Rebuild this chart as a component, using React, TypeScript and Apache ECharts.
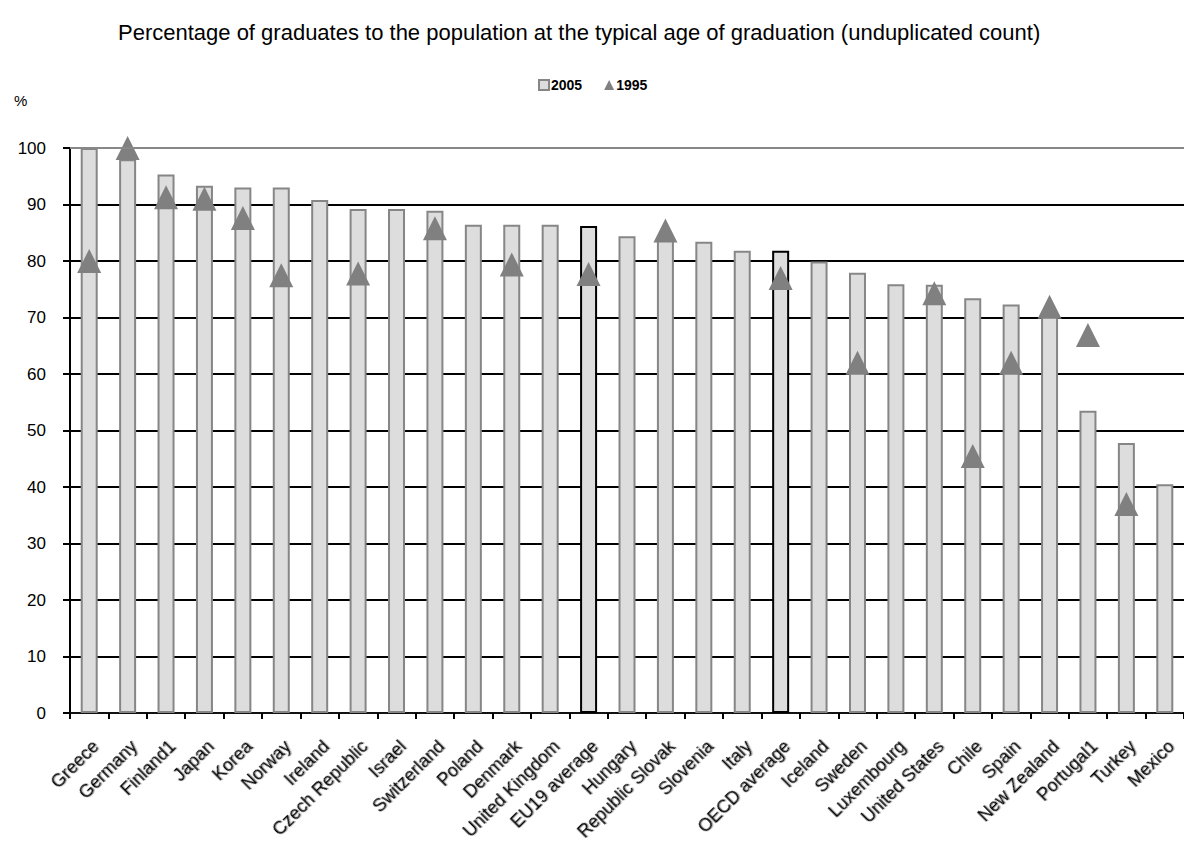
import React, { useEffect, useRef } from "react";
import * as echarts from "echarts";

const categories = [
  "Greece", "Germany", "Finland1", "Japan", "Korea", "Norway", "Ireland", "Czech Republic",
  "Israel", "Switzerland", "Poland", "Denmark", "United Kingdom", "EU19 average", "Hungary",
  "Republic Slovak", "Slovenia", "Italy", "OECD average", "Iceland", "Sweden", "Luxembourg",
  "United States", "Chile", "Spain", "New Zealand", "Portugal1", "Turkey", "Mexico",
];

const values2005 = [
  100, 98.0, 95.3, 93.3, 93.0, 93.0, 90.8, 89.2, 89.2, 88.9, 86.4, 86.4, 86.4, 86.2, 84.4,
  84.0, 83.4, 81.8, 81.8, 79.9, 77.9, 75.9, 75.8, 73.4, 72.3, 70.5, 53.5, 47.8, 40.5,
];

const values1995 = [
  80, 100, 91.3, 91.0, 87.6, 77.5, null, 77.8, null, 85.8, null, 79.4, null, 77.7, null,
  85.4, null, null, 77.0, null, 62.0, null, 74.3, 45.5, 62.0, 71.9, 66.9, 37.0, null,
];

const averages = ["EU19 average", "OECD average"];

const yTicks = { min: 0, max: 100, interval: 10 };

const FONT = "'Liberation Sans', Arial, sans-serif";

export default function App() {
  const ref = useRef<HTMLDivElement>(null);

  useEffect(() => {
    document.body.style.margin = "0";
    if (!ref.current) return;
    const chart = echarts.init(ref.current, null, { renderer: "svg" });

    const barData = values2005.map((v, i) =>
      averages.includes(categories[i])
        ? { value: v, itemStyle: { borderColor: "#000000" } }
        : v
    );

    chart.setOption({
      animation: false,
      backgroundColor: "#ffffff",
      textStyle: { fontFamily: FONT },
      title: {
        text: "Percentage of graduates to the population at the typical age of graduation (unduplicated count)",
        left: 113,
        top: 16,
        textStyle: { fontSize: 22, fontWeight: "normal", color: "#000", fontFamily: FONT },
      },
      legend: {
        top: 73,
        left: 533,
        itemGap: 22,
        itemWidth: 10,
        itemHeight: 10,
        textStyle: { fontSize: 14, fontWeight: "bold", color: "#000", fontFamily: FONT, padding: [0, 0, 0, -3] },
        data: [
          { name: "2005", icon: "rect" },
          { name: "1995", icon: "triangle" },
        ],
      },
      graphic: [
        {
          type: "text",
          left: 14,
          top: 93,
          style: { text: "%", fontSize: 15, fill: "#000", fontFamily: FONT },
        },
      ],
      grid: { left: 70, top: 148, bottom: 143, width: 1125, containLabel: false },
      xAxis: {
        type: "category",
        data: categories,
        boundaryGap: true,
        axisLine: { show: true, lineStyle: { color: "#111", width: 2 } },
        axisTick: { show: true, length: 6, lineStyle: { color: "#000", width: 2 } },
        axisLabel: {
          interval: 0,
          rotate: 45,
          align: "right",
          verticalAlign: "top",
          fontSize: 18,
          color: "#000",
          fontFamily: FONT,
          margin: 24,
          textShadowColor: "rgba(0,0,0,0.3)",
          textShadowOffsetX: 1,
          textShadowOffsetY: 1,
          textShadowBlur: 1,
        },
        splitLine: { show: false },
      },
      yAxis: {
        type: "value",
        min: yTicks.min,
        max: yTicks.max,
        interval: yTicks.interval,
        axisLine: { show: true, lineStyle: { color: "#000", width: 2 } },
        axisTick: { show: true, length: 7, lineStyle: { color: "#000", width: 2 } },
        axisLabel: { fontSize: 17, color: "#000", fontFamily: FONT, margin: 24 },
        splitLine: { show: true, lineStyle: { color: "#000", width: 2 } },
      },
      series: [
        {
          name: "2005",
          type: "bar",
          data: barData,
          barWidth: 17,
          itemStyle: { color: "#dddddd", borderColor: "#868686", borderWidth: 2 },
          markLine: {
            silent: true,
            symbol: "none",
            label: { show: false },
            lineStyle: { color: "#888888", width: 2, type: "solid" },
            data: [{ yAxis: yTicks.max }],
          },
        },
        {
          name: "1995",
          type: "scatter",
          data: values1995,
          symbol: "triangle",
          symbolSize: [24, 24],
          clip: false,
          itemStyle: { color: "#808080", opacity: 1 },
        },
      ],
    });

    return () => chart.dispose();
  }, []);

  return <div ref={ref} style={{ width: 1184, height: 856 }} />;
}
